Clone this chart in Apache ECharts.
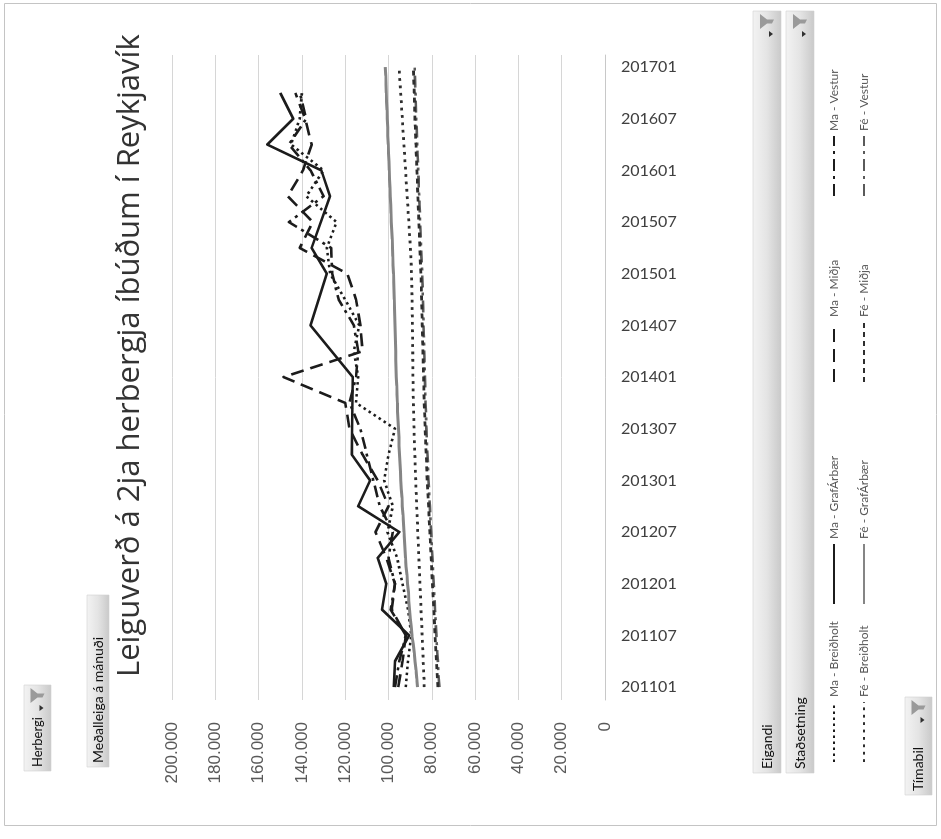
<!DOCTYPE html>
<html>
<head>
<meta charset="utf-8">
<title>Leiguverð á 2ja herbergja íbúðum í Reykjavík</title>
<script src="https://cdn.jsdelivr.net/npm/echarts@6/dist/echarts.min.js"></script>
<style>
  html, body { margin: 0; padding: 0; width: 941px; height: 839px; overflow: hidden; background: #fff; }
  /* The chart is laid out upright (839 x 941) and turned a quarter turn to the left. */
  #chart { position: absolute; left: 51px; top: -51px; width: 839px; height: 941px;
           transform: rotate(-90deg); transform-origin: 50% 50%; }
</style>
</head>
<body>
<div id="chart"></div>
<script>
// Monthly series (in thousands of ISK), starting at 201101 and running through 201701.
const monthlyStart = '201101';
const feGrafarbaer = [
  86.6, 86.9, 87.3, 87.8, 88.1, 88.6, 89.2, 89.5, 89.9, 90.3, 90.6, 90.8,
  91.2, 91.5, 91.9, 92.1, 92.4, 92.6, 92.8, 93.1, 93.3, 93.6, 93.8, 94.1,
  94.3, 94.5, 94.7, 94.9, 95.1, 95.2, 95.4, 95.6, 95.8, 95.9, 96.1, 96.2,
  96.4, 96.5, 96.6, 96.7, 96.8, 96.9, 97.0, 97.1, 97.2, 97.3, 97.5, 97.6,
  97.7, 97.9, 98.0, 98.2, 98.3, 98.5, 98.7, 98.8, 99.0, 99.2, 99.3, 99.5,
  99.6, 99.8, 100.0, 100.1, 100.3, 100.4, 100.6, 100.7, 100.9, 101.0, 101.2, 101.3, 101.5
];
const feBreidholt = [
  83.5, 83.6, 83.8, 84.0, 84.1, 84.3, 84.5, 84.6, 84.8, 85.0, 85.1, 85.3,
  85.5, 85.6, 85.8, 86.0, 86.1, 86.3, 86.5, 86.6, 86.8, 87.0, 87.1, 87.3,
  87.4, 87.6, 87.7, 87.8, 88.0, 88.1, 88.2, 88.3, 88.4, 88.5, 88.6, 88.6,
  88.7, 88.7, 88.8, 88.8, 88.9, 88.9, 89.0, 89.0, 89.1, 89.1, 89.2, 89.3,
  89.4, 89.5, 89.7, 89.9, 90.1, 90.4, 90.6, 90.9, 91.1, 91.4, 91.6, 91.9,
  92.1, 92.4, 92.6, 92.9, 93.1, 93.4, 93.6, 93.9, 94.1, 94.4, 94.6, 94.9, 95.1
];
const feMidja = [
  77.2, 77.4, 77.6, 77.9, 78.1, 78.3, 78.5, 78.7, 78.9, 79.1, 79.3, 79.5,
  79.7, 79.9, 80.1, 80.3, 80.5, 80.7, 80.9, 81.1, 81.3, 81.5, 81.7, 81.9,
  82.1, 82.3, 82.4, 82.6, 82.8, 82.9, 83.1, 83.2, 83.3, 83.5, 83.6, 83.7,
  83.8, 83.9, 84.0, 84.1, 84.2, 84.3, 84.4, 84.5, 84.6, 84.7, 84.8, 84.9,
  85.0, 85.2, 85.4, 85.5, 85.7, 85.8, 86.0, 86.1, 86.3, 86.4, 86.6, 86.7,
  86.9, 87.0, 87.2, 87.3, 87.5, 87.6, 87.8, 87.9, 88.0, 88.1, 88.3, 88.4, 88.5
];
const feVestur = [
  76.5, 76.8, 77.0, 77.2, 77.5, 77.7, 77.9, 78.1, 78.3, 78.5, 78.7, 78.9,
  79.1, 79.3, 79.5, 79.7, 79.9, 80.1, 80.3, 80.5, 80.7, 80.9, 81.1, 81.3,
  81.5, 81.7, 81.8, 82.0, 82.2, 82.3, 82.5, 82.6, 82.7, 82.9, 83.0, 83.1,
  83.2, 83.3, 83.4, 83.5, 83.6, 83.7, 83.8, 83.9, 84.0, 84.1, 84.2, 84.3,
  84.4, 84.6, 84.8, 84.9, 85.1, 85.2, 85.4, 85.5, 85.7, 85.8, 86.0, 86.1,
  86.3, 86.4, 86.6, 86.7, 86.9, 87.0, 87.2, 87.3, 87.4, 87.5, 87.7, 87.8, 87.9
];

// Quarterly series (in thousands of ISK); null = no figure for that quarter.
const quarterPeriods = [
  '201101', '201104', '201107', '201110', '201201', '201204', '201207', '201210',
  '201301', '201304', '201307', '201310', '201401', '201404', '201407', '201410',
  '201501', '201504', '201507', '201510', '201601', '201604', '201607', '201610', '201701'
];
const maBreidholt = [92, 91, 89.5, 91, 93.5, 96, 100.5, 98, 102, 100, 97, 115, 114,
                     116, 113.5, 120, 127, 128.5, 124, 138, 130, 145, 141, 140, null];
const maGrafarbaer = [97.5, 97, 90.5, 103, 101, 105, 95, 114, 108.5, 117, null, null, 116.5,
                      null, 136, null, 128.5, 135.5, null, 127, 131, 156, 144, 150, null];
const maMidja = [95.5, 93.5, 92, 98.5, 97, 101, 106, 100, 105, 112, 118, 120, 148.5,
                 112, 113, 115, 119, 141, 135, 146.5, 139.5, 135.5, 138.5, 143, null];
const maVestur = [97, 95, 92, 99, 97, 100, 98, 104, 107, 110, 113, 118, 115,
                  114, 116, 123, 126, 126.5, 146, 130, 136, 146, 138, 141, null];

// Tick labels on the period axis.
const periodTicks = ['201101', '201107', '201201', '201207', '201301', '201307', '201401',
                     '201407', '201501', '201507', '201601', '201607', '201701'];
const valueTicks = [0, 20000, 40000, 60000, 80000, 100000, 120000, 140000, 160000, 180000, 200000];

// Position of a YYYYMM period on the month axis (months after January 2011).
function periodIndex(p) {
  const y = +p.slice(0, 4), m = +p.slice(4, 6);
  return (y - 2011) * 12 + (m - 1);
}
function monthlyData(values) {
  const s = periodIndex(monthlyStart);
  return values.map((v, i) => [s + i, v == null ? null : v * 1000]);
}
function quarterlyData(values) {
  return quarterPeriods.map((p, i) => [periodIndex(p), values[i] == null ? null : values[i] * 1000]);
}

const tickIndex = periodTicks.map(periodIndex);
const BLACK = '#1c1c1c';
const GREY = '#858585';

function lineSeries(name, data, color, width, dash, z) {
  return {
    name, type: 'line', data, showSymbol: false, symbol: 'none', connectNulls: true,
    z: z || 3,
    lineStyle: { color, width, type: dash || 'solid', cap: 'butt', join: 'round' },
    itemStyle: { color },
    emphasis: { disabled: true }, silent: true, animation: false
  };
}

const series = [
  lineSeries('Ma - Breiðholt', quarterlyData(maBreidholt), BLACK, 2.6, [2.5, 3.5]),
  lineSeries('Fé - Breiðholt', monthlyData(feBreidholt), '#2e2e2e', 2.8, [2.8, 4.6]),
  lineSeries('Ma - GrafÁrbær', quarterlyData(maGrafarbaer), BLACK, 2.6),
  lineSeries('Fé - GrafÁrbær', monthlyData(feGrafarbaer), GREY, 3),
  lineSeries('Ma - Miðja', quarterlyData(maMidja), BLACK, 2.6, [13, 7]),
  lineSeries('Fé - Miðja', monthlyData(feMidja), '#2e2e2e', 2.8, [5, 4]),
  lineSeries('Ma - Vestur', quarterlyData(maVestur), BLACK, 2.6, [12, 5, 3, 5]),
  lineSeries('Fé - Vestur', monthlyData(feVestur), '#5a5a5a', 2.6, [12, 5, 3, 5], 2)
];

// Legend: two rows (Ma above, Fé below), four columns.
const legendColumns = [76, 234, 456, 642];
const legendRows = [828, 858];
const legends = series.map((s, i) => ({
  data: [s.name],
  left: legendColumns[Math.floor(i / 2)],
  top: legendRows[i % 2],
  orient: 'horizontal',
  padding: 0,
  itemWidth: 60,
  itemHeight: 12,
  selectedMode: false,
  itemStyle: { opacity: 0 },
  textStyle: { fontFamily: 'Lato', fontSize: 12, color: '#595959' }
}));

// Pivot field buttons.
const btnFill = {
  type: 'linear', x: 0, y: 0, x2: 0, y2: 1,
  colorStops: [{ offset: 0, color: '#f3f3f3' }, { offset: 0.5, color: '#e4e4e4' }, { offset: 1, color: '#c9c9c9' }]
};
function funnel(x, y) {
  return {
    type: 'polygon', silent: true,
    shape: { points: [[x, y], [x + 15, y], [x + 9.5, y + 7], [x + 9.5, y + 14], [x + 5.5, y + 12], [x + 5.5, y + 7]] },
    style: { fill: '#9a9a9a' }
  };
}
function arrow(x, y) {
  return {
    type: 'polygon', silent: true,
    shape: { points: [[x, y], [x + 6, y], [x + 3, y + 4]] },
    style: { fill: '#303030' }
  };
}
function fieldButton(x, y, w, h, label, withFilter, fontSize) {
  const items = [
    { type: 'rect', silent: true, shape: { x, y, width: w, height: h }, style: { fill: btnFill, stroke: '#d0d0d0', lineWidth: 0.6 } },
    { type: 'text', silent: true, style: { x: x + 4, y: y + h / 2, text: label, fill: '#111',
      font: (fontSize || 14) + 'px Lato', verticalAlign: 'middle', align: 'left' } }
  ];
  if (withFilter) {
    items.push(arrow(x + w - 26, y + h / 2 + 2));
    items.push(funnel(x + w - 18, y + h / 2 - 7));
  }
  return items;
}

const graphic = [
  { type: 'rect', silent: true, shape: { x: 13.5, y: 4.5, width: 822, height: 932 },
    style: { fill: 'none', stroke: '#c4c4c4', lineWidth: 1 } },
  ...fieldButton(68, 24, 86, 27, 'Herbergi', true, 13),
  ...fieldButton(72, 87, 172, 22, 'Meðalleiga á mánuði', false, 14),
  ...fieldButton(66, 753, 762, 28, 'Eigandi', true),
  ...fieldButton(66, 786, 762, 28, 'Staðsetning', true),
  ...fieldButton(44, 905, 98, 27, 'Tímabil', true)
];

const chart = echarts.init(document.getElementById('chart'), null, { renderer: 'canvas', width: 839, height: 941 });
chart.setOption({
  animation: false,
  backgroundColor: '#ffffff',
  title: {
    text: 'Leiguverð á 2ja herbergja íbúðum í Reykjavík',
    left: 157, top: 110,
    textStyle: { fontFamily: 'Open Sans', fontSize: 31, fontWeight: 'normal', color: '#333333' }
  },
  legend: legends,
  graphic,
  grid: { left: 139, right: 55, top: 172, bottom: 336, containLabel: false },
  xAxis: {
    type: 'value', min: -1.5, max: 73.4,
    axisLine: { show: true, lineStyle: { color: '#c8c8c8', width: 1 } },
    axisTick: { show: false },
    splitLine: { show: false },
    axisLabel: {
      customValues: tickIndex,
      rotate: -90,
      margin: 16,
      fontFamily: 'Lato', fontSize: 16, color: '#404040',
      formatter: v => periodTicks[tickIndex.indexOf(v)] || ''
    }
  },
  yAxis: {
    type: 'value', min: 0, max: 200000, interval: 20000,
    axisLine: { show: false },
    axisTick: { show: false },
    splitLine: { lineStyle: { color: '#d6d6d6', width: 1 } },
    axisLabel: {
      margin: 22,
      fontFamily: 'Liberation Sans', fontSize: 17, color: '#595959',
      formatter: v => valueTicks.includes(v) ? String(v).replace(/\B(?=(\d{3})+(?!\d))/g, '.') : ''
    }
  },
  series
});
</script>
</body>
</html>
